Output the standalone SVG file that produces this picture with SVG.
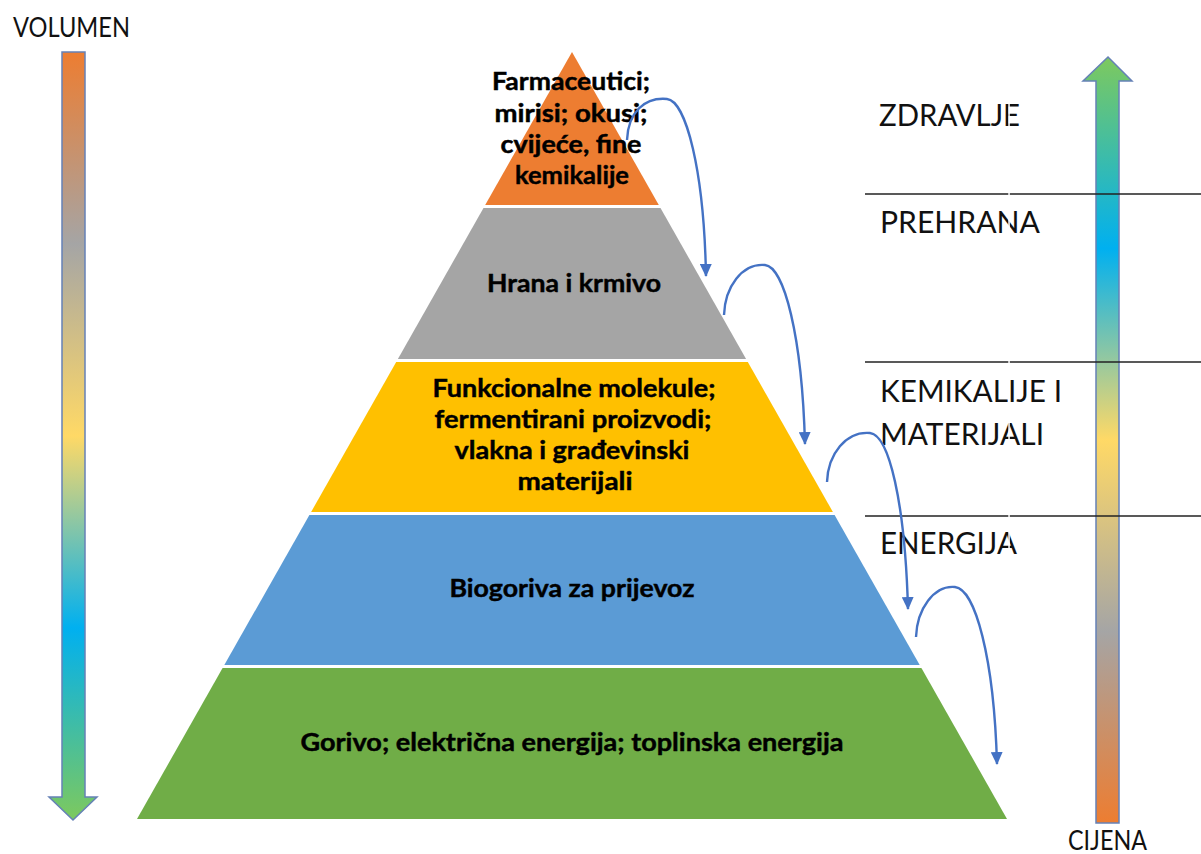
<svg xmlns="http://www.w3.org/2000/svg" width="1201" height="854" viewBox="0 0 1201 854">
<style>
.pt{font-family:Lato,"Open Sans","DejaVu Sans",sans-serif;font-weight:700;font-size:25px;fill:#000;stroke:#000;stroke-width:0.45;text-anchor:middle}
.lb{font-family:Lato,"Open Sans","DejaVu Sans",sans-serif;font-size:30px;fill:#111}
.ax{font-family:Lato,"Open Sans","DejaVu Sans",sans-serif;font-size:26px;fill:#111}
.big{stroke:#6581B6;stroke-width:1.5}
.sep{stroke:#222;stroke-width:1.5}
.cv{fill:none;stroke:#4472C4;stroke-width:2.4;marker-end:url(#ah)}
</style>
<defs>
<linearGradient id="gv" x1="0" y1="52" x2="0" y2="820" gradientUnits="userSpaceOnUse">
<stop offset="0" stop-color="#ED7D31"/>
<stop offset="0.25" stop-color="#A5A5A5"/>
<stop offset="0.5" stop-color="#FFD966"/>
<stop offset="0.75" stop-color="#00B0F0"/>
<stop offset="1" stop-color="#7DC95E"/>
</linearGradient>
<linearGradient id="gc" x1="0" y1="57" x2="0" y2="823" gradientUnits="userSpaceOnUse">
<stop offset="0" stop-color="#7DC95E"/>
<stop offset="0.25" stop-color="#00B0F0"/>
<stop offset="0.5" stop-color="#FFD966"/>
<stop offset="0.75" stop-color="#A5A5A5"/>
<stop offset="1" stop-color="#ED7D31"/>
</linearGradient>
<marker id="ah" viewBox="0 0 13 12" refX="12" refY="6" markerWidth="13" markerHeight="12" markerUnits="userSpaceOnUse" orient="auto">
<path d="M0,0 L13,6 L0,12 z" fill="#4472C4"/>
</marker>
</defs>

<g id="volumen">
<path class="big" d="M62,52 H85 V797 H97 L73,820 L49,797 H62 Z" fill="url(#gv)"/>
<text class="ax" x="13" y="37" textLength="117" lengthAdjust="spacingAndGlyphs">VOLUMEN</text>
</g>

<g id="cijena">
<path class="big" d="M1096,823 H1119 V81 H1132 L1108,57 L1083,81 H1096 Z" fill="url(#gc)"/>
<text class="ax" x="1068" y="850" font-size="25" textLength="79" lengthAdjust="spacingAndGlyphs">CIJENA</text>
</g>

<g id="level1">
<polygon points="572,52 658.8,205 485.2,205" fill="#ED7D31"/>
<text class="pt" x="571" y="90" textLength="158" lengthAdjust="spacingAndGlyphs">Farmaceutici;</text>
<text class="pt" x="571" y="122" textLength="153" lengthAdjust="spacingAndGlyphs">mirisi; okusi;</text>
<text class="pt" x="571" y="153" textLength="141" lengthAdjust="spacingAndGlyphs">cvijeće, fine</text>
<text class="pt" x="572" y="184" textLength="114" lengthAdjust="spacingAndGlyphs">kemikalije</text>
</g>

<g id="level2">
<polygon points="483.5,208 660.5,208 746.1,359 397.9,359" fill="#A5A5A5"/>
<text class="pt" x="574" y="292" textLength="174" lengthAdjust="spacingAndGlyphs">Hrana i krmivo</text>
</g>

<g id="level3">
<polygon points="396.2,362 747.8,362 832.9,512 311.1,512" fill="#FFC000"/>
<text class="pt" x="574" y="397" textLength="283" lengthAdjust="spacingAndGlyphs">Funkcionalne molekule;</text>
<text class="pt" x="573" y="428" textLength="277" lengthAdjust="spacingAndGlyphs">fermentirani proizvodi;</text>
<text class="pt" x="572" y="459" textLength="235" lengthAdjust="spacingAndGlyphs">vlakna i građevinski</text>
<text class="pt" x="575" y="490" textLength="115" lengthAdjust="spacingAndGlyphs">materijali</text>
</g>

<g id="level4">
<polygon points="309.4,515 834.6,515 919.7,665 224.3,665" fill="#5B9BD5"/>
<text class="pt" x="572" y="597" textLength="245" lengthAdjust="spacingAndGlyphs">Biogoriva za prijevoz</text>
</g>

<g id="level5">
<polygon points="222.6,668 921.4,668 1007,819 137,819" fill="#70AD47"/>
<text class="pt" x="572" y="751" textLength="543" lengthAdjust="spacingAndGlyphs">Gorivo; električna energija; toplinska energija</text>
</g>

<g id="categories">
<line class="sep" x1="865" y1="194" x2="1201" y2="194"/>
<line class="sep" x1="865" y1="362" x2="1201" y2="362"/>
<line class="sep" x1="865" y1="516" x2="1201" y2="516"/>
<text class="lb" x="879" y="126" textLength="141" lengthAdjust="spacingAndGlyphs">ZDRAVLJE</text>
<text class="lb" x="880" y="233" textLength="160" lengthAdjust="spacingAndGlyphs">PREHRANA</text>
<text class="lb" x="880" y="402" textLength="182" lengthAdjust="spacingAndGlyphs">KEMIKALIJE I</text>
<text class="lb" x="880" y="445" textLength="164" lengthAdjust="spacingAndGlyphs">MATERIJALI</text>
<text class="lb" x="880" y="554" textLength="137" lengthAdjust="spacingAndGlyphs">ENERGIJA</text>
<rect x="1008.3" y="95" width="1.5" height="465" fill="#fff"/>
</g>

<g id="connectors">
<path class="cv" d="M627,140 C628,112 645,97 667,99 C686,101 704,170 706,276"/>
<path class="cv" d="M724,315 C725,287 742,263 765,265 C784,267 802,335 805,444"/>
<path class="cv" d="M827,482 C828,454 846,431 870,433 C889,435 905,502 908,609"/>
<path class="cv" d="M916,637 C917,609 934,585 955,587 C975,589 994,657 997,764"/>
</g>
</svg>
